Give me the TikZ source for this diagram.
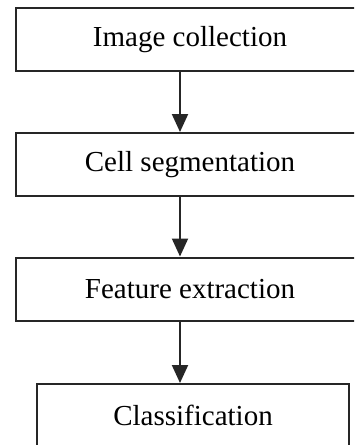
\documentclass[tikz,border=0pt]{standalone}
\usepackage{fontspec}
\setmainfont{Liberation Serif}
\usetikzlibrary{arrows.meta}
\begin{document}
\begin{tikzpicture}[x=1pt,y=-1pt,
  stepbox/.style={draw=black!85, line width=2pt, minimum height=63pt, inner sep=0pt,
    font=\fontsize{29}{34}\selectfont},
  flow/.style={draw=black!85, line width=2pt, -{Triangle[width=16pt,length=18pt]}}]
\useasboundingbox (0,0) rectangle (354,445);
\clip (0,0) rectangle (354,445);
\fill[white] (0,0) rectangle (354,445);
\node[stepbox, minimum width=348pt] (b1) at (190,39.5) {Image collection};
\node[stepbox, minimum width=348pt] (b2) at (190,164.5) {Cell segmentation};
\node[stepbox, minimum width=348pt] (b3) at (190,289) {Feature extraction};
\node[stepbox, minimum width=312pt] (b4) at (193,415.5) {Classification};
\coordinate (ax) at (180,0);
\draw[flow] (b1.south -| ax) -- (b2.north -| ax);
\draw[flow] (b2.south -| ax) -- (b3.north -| ax);
\draw[flow] (b3.south -| ax) -- (b4.north -| ax);
\end{tikzpicture}
\end{document}
